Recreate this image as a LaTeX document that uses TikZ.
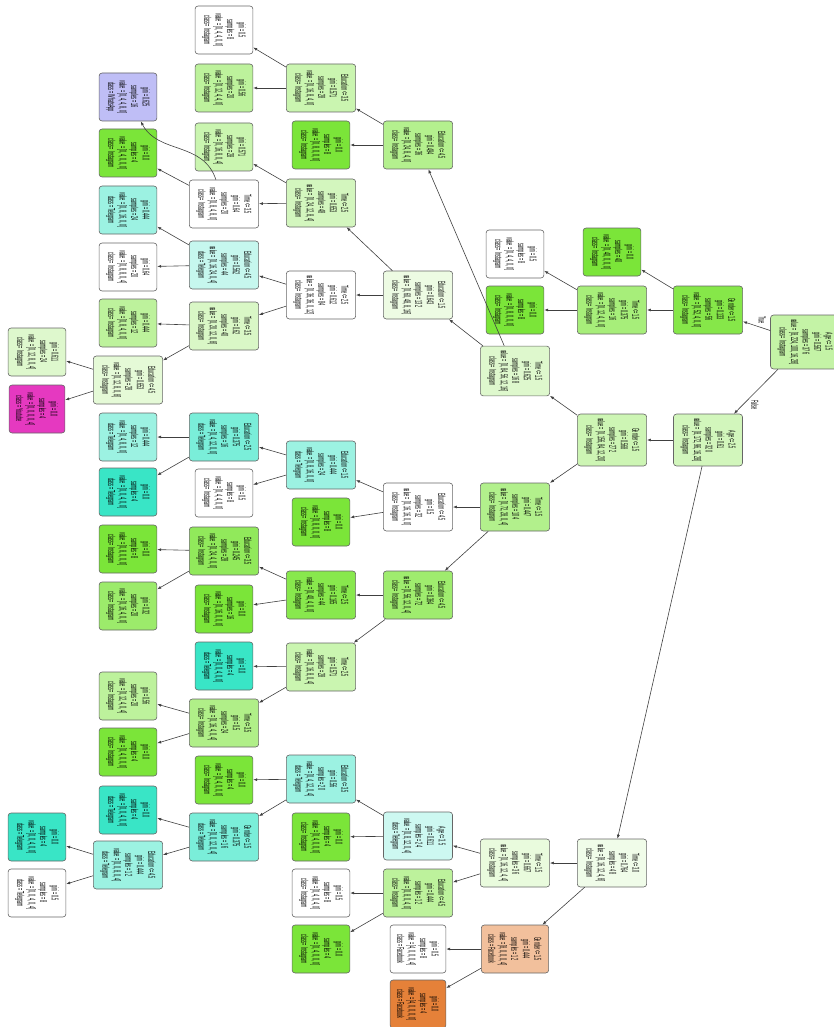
\documentclass[tikz,border=0pt]{standalone}
\usepackage{fontspec}
\usepackage{tikz}
\usetikzlibrary{arrows.meta}
\newfontfamily\treefont[FakeStretch=0.37]{Liberation Sans}
\definecolor{fbc}{HTML}{E58139}
\definecolor{insc}{HTML}{7BE539}
\definecolor{telc}{HTML}{39E5C6}
\definecolor{wac}{HTML}{3C39E5}
\definecolor{ytc}{HTML}{E539C0}

\begin{document}
\begin{tikzpicture}[
    x=1pt, y=1pt,
    box/.style={draw=black!60, line width=0.6pt, rounded corners=3pt, rotate=-90, align=center, inner xsep=4pt, inner ysep=7pt, minimum width=48pt, font=\treefont\fontsize{10}{11.5}\selectfont},
    lbl/.style={rotate=-90, inner sep=1pt, font=\treefont\fontsize{10}{11.5}\selectfont},
    ar/.style={-{Latex[length=4pt, width=3pt]}, black!75, line width=0.6pt}
  ]
    \useasboundingbox (0,0) rectangle (834,-1027);
    % root and first levels
    \node[box, fill=insc!45] (root) at (805,-342) {Age <= 1.5\\gini = 0.567\\samples = 376\\value = [8, 224, 100, 16, 28]\\class = Instagram};
    \node[box, fill=insc!92] (gen56) at (708,-310) {Gender <= 1.5\\gini = 0.133\\samples = 56\\value = [0, 52, 4, 0, 0]\\class = Instagram};
    \node[box, fill=insc!34] (age320) at (708,-440) {Age <= 2.5\\gini = 0.61\\samples = 320\\value = [8, 172, 96, 16, 28]\\class = Instagram};
    \node[box, fill=insc] (lf40) at (612,-252) {gini = 0.0\\samples = 40\\value = [0, 40, 0, 0, 0]\\class = Instagram};
    \node[box, fill=insc!67] (tim16) at (612,-310) {Time <= 1.5\\gini = 0.375\\samples = 16\\value = [0, 12, 4, 0, 0]\\class = Instagram};
    \node[box, fill=white] (lf8a) at (515,-254) {gini = 0.5\\samples = 8\\value = [0, 4, 4, 0, 0]\\class = Instagram};
    \node[box, fill=insc] (lf8b) at (515,-310) {gini = 0.0\\samples = 8\\value = [0, 8, 0, 0, 0]\\class = Instagram};
    \node[box, fill=insc!38] (gen272) at (612,-440) {Gender <= 1.5\\gini = 0.568\\samples = 272\\value = [0, 156, 84, 12, 20]\\class = Instagram};
    \node[box, fill=insc!11] (tim48) at (612,-863) {Time <= 3.0\\gini = 0.764\\samples = 48\\value = [8, 16, 12, 4, 8]\\class = Instagram};
    \node[box, fill=insc!25] (tim168) at (515,-371) {Time <= 1.5\\gini = 0.625\\samples = 168\\value = [0, 84, 56, 12, 16]\\class = Instagram};
    \node[box, fill=insc!58] (tim104) at (515,-507) {Time <= 1.5\\gini = 0.447\\samples = 104\\value = [0, 72, 28, 0, 4]\\class = Instagram};
    % upper branch
    \node[box, fill=insc!57] (edu36) at (418,-145) {Education <= 4.5\\gini = 0.494\\samples = 36\\value = [0, 24, 8, 4, 0]\\class = Instagram};
    \node[box, fill=insc!14] (edu132) at (418,-295) {Education <= 1.5\\gini = 0.643\\samples = 132\\value = [0, 60, 48, 8, 16]\\class = Instagram};
    \node[box, fill=insc] (lf8c) at (321,-145) {gini = 0.0\\samples = 8\\value = [0, 8, 0, 0, 0]\\class = Instagram};
    \node[box, fill=insc!40] (edu28a) at (321,-88) {Education <= 3.5\\gini = 0.571\\samples = 28\\value = [0, 16, 8, 4, 0]\\class = Instagram};
    \node[box, fill=white] (lf8d) at (224,-30) {gini = 0.5\\samples = 8\\value = [0, 4, 4, 0, 0]\\class = Instagram};
    \node[box, fill=insc!50] (lf20a) at (224,-88) {gini = 0.56\\samples = 20\\value = [0, 12, 4, 4, 0]\\class = Instagram};
    \node[box, fill=insc!33] (tim48b) at (321,-203) {Time <= 2.5\\gini = 0.653\\samples = 48\\value = [0, 24, 12, 8, 4]\\class = Instagram};
    \node[box, fill=white] (tim84) at (321,-295) {Time <= 2.5\\gini = 0.612\\samples = 84\\value = [0, 36, 36, 0, 12]\\class = Instagram};
    \node[box, fill=insc!40] (lf28a) at (224,-147) {gini = 0.571\\samples = 28\\value = [0, 16, 8, 0, 4]\\class = Instagram};
    \node[box, fill=white] (tim20) at (224,-204) {Time <= 3.5\\gini = 0.64\\samples = 20\\value = [0, 8, 4, 8, 0]\\class = Instagram};
    \node[box, fill=wac!33] (lf16wa) at (128,-97) {gini = 0.625\\samples = 16\\value = [0, 4, 4, 8, 0]\\class = WhatsApp};
    \node[box, fill=insc] (lf4a) at (128,-153) {gini = 0.0\\samples = 4\\value = [0, 4, 0, 0, 0]\\class = Instagram};
    \node[box, fill=telc!29] (edu44) at (224,-265) {Education <= 4.5\\gini = 0.562\\samples = 44\\value = [0, 16, 24, 0, 4]\\class = Telegram};
    \node[box, fill=insc!29] (tim40) at (224,-326) {Time <= 3.5\\gini = 0.62\\samples = 40\\value = [0, 20, 12, 0, 8]\\class = Instagram};
    \node[box, fill=telc!50] (lf24a) at (128,-210) {gini = 0.444\\samples = 24\\value = [0, 8, 16, 0, 0]\\class = Telegram};
    \node[box, fill=white] (lf20b) at (128,-267) {gini = 0.64\\samples = 20\\value = [0, 8, 8, 0, 4]\\class = Instagram};
    \node[box, fill=insc!50] (lf12a) at (128,-323) {gini = 0.444\\samples = 12\\value = [0, 8, 4, 0, 0]\\class = Instagram};
    \node[box, fill=insc!20] (edu28b) at (128,-380) {Education <= 4.5\\gini = 0.653\\samples = 28\\value = [0, 12, 8, 0, 8]\\class = Instagram};
    \node[box, fill=insc!25] (lf24b) at (37,-352) {gini = 0.611\\samples = 24\\value = [0, 12, 8, 0, 4]\\class = Instagram};
    \node[box, fill=ytc] (lf4yt) at (37,-409) {gini = 0.0\\samples = 4\\value = [0, 0, 0, 0, 4]\\class = Youtube};
    % middle branch
    \node[box, fill=white] (edu32) at (418,-507) {Education <= 4.5\\gini = 0.5\\samples = 32\\value = [0, 16, 16, 0, 0]\\class = Instagram};
    \node[box, fill=insc!73] (edu72) at (418,-595) {Education <= 4.5\\gini = 0.364\\samples = 72\\value = [0, 56, 12, 0, 4]\\class = Instagram};
    \node[box, fill=telc!50] (edu24) at (321,-465) {Education <= 1.5\\gini = 0.444\\samples = 24\\value = [0, 8, 16, 0, 0]\\class = Telegram};
    \node[box, fill=insc] (lf8e) at (321,-522) {gini = 0.0\\samples = 8\\value = [0, 8, 0, 0, 0]\\class = Instagram};
    \node[box, fill=telc!67] (edu16) at (224,-437) {Education <= 2.5\\gini = 0.375\\samples = 16\\value = [0, 4, 12, 0, 0]\\class = Telegram};
    \node[box, fill=white] (lf8f) at (224,-493) {gini = 0.5\\samples = 8\\value = [0, 4, 4, 0, 0]\\class = Instagram};
    \node[box, fill=telc!50] (lf12b) at (128,-437) {gini = 0.444\\samples = 12\\value = [0, 4, 8, 0, 0]\\class = Telegram};
    \node[box, fill=telc] (lf4b) at (128,-492) {gini = 0.0\\samples = 4\\value = [0, 0, 4, 0, 0]\\class = Telegram};
    \node[box, fill=insc!90] (tim44) at (321,-595) {Time <= 2.5\\gini = 0.165\\samples = 44\\value = [0, 40, 4, 0, 0]\\class = Instagram};
    \node[box, fill=insc!40] (tim28) at (321,-667) {Time <= 2.5\\gini = 0.571\\samples = 28\\value = [0, 16, 8, 0, 4]\\class = Instagram};
    \node[box, fill=insc!83] (edu28c) at (224,-551) {Education <= 3.5\\gini = 0.245\\samples = 28\\value = [0, 24, 4, 0, 0]\\class = Instagram};
    \node[box, fill=insc] (lf16a) at (224,-609) {gini = 0.0\\samples = 16\\value = [0, 16, 0, 0, 0]\\class = Instagram};
    \node[box, fill=insc] (lf8g) at (128,-549) {gini = 0.0\\samples = 8\\value = [0, 8, 0, 0, 0]\\class = Instagram};
    \node[box, fill=insc!75] (lf20c) at (128,-606) {gini = 0.32\\samples = 20\\value = [0, 16, 4, 0, 0]\\class = Instagram};
    \node[box, fill=telc] (lf4c) at (224,-666) {gini = 0.0\\samples = 4\\value = [0, 0, 4, 0, 0]\\class = Telegram};
    \node[box, fill=insc!60] (tim24) at (224,-723) {Time <= 3.5\\gini = 0.5\\samples = 24\\value = [0, 16, 4, 0, 4]\\class = Instagram};
    \node[box, fill=insc!50] (lf20d) at (128,-696) {gini = 0.56\\samples = 20\\value = [0, 12, 4, 0, 4]\\class = Instagram};
    \node[box, fill=insc] (lf4d) at (128,-752) {gini = 0.0\\samples = 4\\value = [0, 4, 0, 0, 0]\\class = Instagram};
    % lower branch
    \node[box, fill=insc!17] (tim36) at (515,-863) {Time <= 1.5\\gini = 0.667\\samples = 36\\value = [0, 16, 12, 4, 4]\\class = Instagram};
    \node[box, fill=fbc!50] (gen12) at (515,-949) {Gender <= 1.5\\gini = 0.444\\samples = 12\\value = [8, 0, 0, 0, 4]\\class = Facebook};
    \node[box, fill=white] (lf8h) at (418,-949) {gini = 0.5\\samples = 8\\value = [4, 0, 0, 0, 4]\\class = Facebook};
    \node[box, fill=fbc] (lf4fb) at (418,-1004) {gini = 0.0\\samples = 4\\value = [4, 0, 0, 0, 0]\\class = Facebook};
    \node[box, fill=telc!25] (age24) at (418,-836) {Age <= 3.5\\gini = 0.611\\samples = 24\\value = [0, 8, 12, 0, 4]\\class = Telegram};
    \node[box, fill=insc!50] (edu12a) at (418,-893) {Education <= 4.5\\gini = 0.444\\samples = 12\\value = [0, 8, 0, 4, 0]\\class = Instagram};
    \node[box, fill=white] (lf8i) at (321,-893) {gini = 0.5\\samples = 8\\value = [0, 4, 0, 4, 0]\\class = Instagram};
    \node[box, fill=insc] (lf4e) at (321,-949) {gini = 0.0\\samples = 4\\value = [0, 4, 0, 0, 0]\\class = Instagram};
    \node[box, fill=telc!50] (edu20) at (321,-779) {Education <= 3.5\\gini = 0.56\\samples = 20\\value = [0, 4, 12, 0, 4]\\class = Telegram};
    \node[box, fill=insc] (lf4f) at (321,-837) {gini = 0.0\\samples = 4\\value = [0, 4, 0, 0, 0]\\class = Instagram};
    \node[box, fill=insc] (lf4g) at (224,-780) {gini = 0.0\\samples = 4\\value = [0, 4, 0, 0, 0]\\class = Instagram};
    \node[box, fill=telc!67] (gen16) at (224,-837) {Gender <= 1.5\\gini = 0.375\\samples = 16\\value = [0, 0, 12, 0, 4]\\class = Telegram};
    \node[box, fill=telc] (lf4h) at (128,-810) {gini = 0.0\\samples = 4\\value = [0, 0, 4, 0, 0]\\class = Telegram};
    \node[box, fill=telc!50] (edu12b) at (128,-865) {Education <= 4.5\\gini = 0.444\\samples = 12\\value = [0, 0, 8, 0, 4]\\class = Telegram};
    \node[box, fill=telc] (lf4i) at (37,-837) {gini = 0.0\\samples = 4\\value = [0, 0, 4, 0, 0]\\class = Telegram};
    \node[box, fill=white] (lf8j) at (37,-893) {gini = 0.5\\samples = 8\\value = [0, 0, 4, 0, 4]\\class = Telegram};
    % edge labels
    \node[lbl] (ltrue) at (762,-320) {True};
    \node[lbl] (lfalse) at (755,-405) {False};
    % edges
    \draw[ar] (root) -- (gen56);
    \draw[ar] (root) -- (age320);
    \draw[ar] (gen56) -- (lf40);
    \draw[ar] (gen56) -- (tim16);
    \draw[ar] (tim16) -- (lf8a);
    \draw[ar] (tim16) -- (lf8b);
    \draw[ar] (age320) -- (gen272);
    \draw[ar] (age320) -- (tim48);
    \draw[ar] (gen272) -- (tim168);
    \draw[ar] (gen272) -- (tim104);
    \draw[ar] (tim168) -- (edu36);
    \draw[ar] (tim168) -- (edu132);
    \draw[ar] (edu36) -- (lf8c);
    \draw[ar] (edu36) -- (edu28a);
    \draw[ar] (edu28a) -- (lf8d);
    \draw[ar] (edu28a) -- (lf20a);
    \draw[ar] (edu132) -- (tim48b);
    \draw[ar] (edu132) -- (tim84);
    \draw[ar] (tim48b) -- (lf28a);
    \draw[ar] (tim48b) -- (tim20);
    \draw[ar] (tim20) to[out=138, in=-35] (lf16wa);
    \draw[ar] (tim20) -- (lf4a);
    \draw[ar] (tim84) -- (edu44);
    \draw[ar] (tim84) -- (tim40);
    \draw[ar] (edu44) -- (lf24a);
    \draw[ar] (edu44) -- (lf20b);
    \draw[ar] (tim40) -- (lf12a);
    \draw[ar] (tim40) -- (edu28b);
    \draw[ar] (edu28b) -- (lf24b);
    \draw[ar] (edu28b) -- (lf4yt);
    \draw[ar] (tim104) -- (edu32);
    \draw[ar] (tim104) -- (edu72);
    \draw[ar] (edu32) -- (edu24);
    \draw[ar] (edu32) -- (lf8e);
    \draw[ar] (edu24) -- (edu16);
    \draw[ar] (edu24) -- (lf8f);
    \draw[ar] (edu16) -- (lf12b);
    \draw[ar] (edu16) -- (lf4b);
    \draw[ar] (edu72) -- (tim44);
    \draw[ar] (edu72) -- (tim28);
    \draw[ar] (tim44) -- (edu28c);
    \draw[ar] (tim44) -- (lf16a);
    \draw[ar] (edu28c) -- (lf8g);
    \draw[ar] (edu28c) -- (lf20c);
    \draw[ar] (tim28) -- (lf4c);
    \draw[ar] (tim28) -- (tim24);
    \draw[ar] (tim24) -- (lf20d);
    \draw[ar] (tim24) -- (lf4d);
    \draw[ar] (tim48) -- (tim36);
    \draw[ar] (tim48) -- (gen12);
    \draw[ar] (gen12) -- (lf8h);
    \draw[ar] (gen12) -- (lf4fb);
    \draw[ar] (tim36) -- (age24);
    \draw[ar] (tim36) -- (edu12a);
    \draw[ar] (edu12a) -- (lf8i);
    \draw[ar] (edu12a) -- (lf4e);
    \draw[ar] (age24) -- (edu20);
    \draw[ar] (age24) -- (lf4f);
    \draw[ar] (edu20) -- (lf4g);
    \draw[ar] (edu20) -- (gen16);
    \draw[ar] (gen16) -- (lf4h);
    \draw[ar] (gen16) -- (edu12b);
    \draw[ar] (edu12b) -- (lf4i);
    \draw[ar] (edu12b) -- (lf8j);
\end{tikzpicture}
\end{document}
